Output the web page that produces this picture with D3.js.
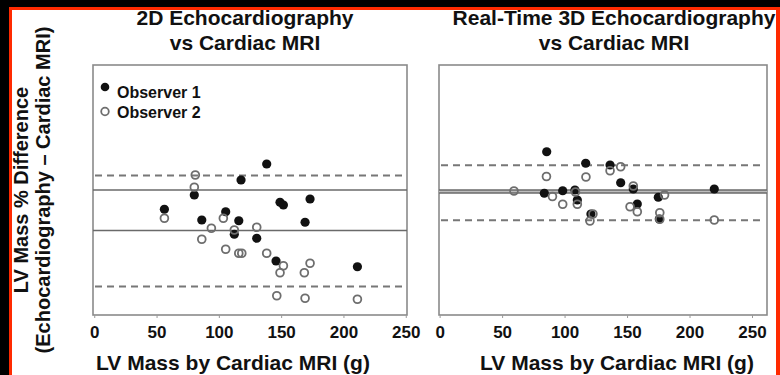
<!DOCTYPE html>
<html>
<head>
<meta charset="utf-8">
<script src="https://cdn.jsdelivr.net/npm/d3@7"></script>
<style>
  body { margin: 0; background: #000; }
  text { font-family: "Liberation Sans", Arial, Helvetica, sans-serif; font-weight: bold; fill: #111; }
</style>
</head>
<body>
<svg id="chart"></svg>
<script>
// ---- data (LV mass by MRI in g, % difference) ----
var xTicks = [0, 50, 100, 150, 200, 250];

// 2D echo panel
var twoD_obs1_mass = [56.3, 80.3, 86.3, 105.5, 116.0, 117.8, 112.4, 130.4, 138.4, 149.1, 151.8, 173.2, 169.2, 145.9, 211.2];
var twoD_obs1_diff = [-7.7, -2.0, -12.0, -8.7, -12.3, 4.0, -17.7, -19.3, 10.4, -4.9, -6.0, -3.6, -12.9, -28.4, -30.7];
var twoD_obs2_mass = [81.1, 80.3, 56.3, 94.0, 103.6, 112.4, 86.3, 105.5, 116.0, 118.4, 130.4, 138.4, 151.8, 149.1, 173.2, 168.6, 146.5, 169.2, 211.2];
var twoD_obs2_diff = [6.0, 1.1, -11.3, -15.3, -11.3, -16.0, -19.7, -23.7, -25.3, -25.3, -14.9, -25.3, -30.3, -33.1, -29.3, -33.1, -42.3, -43.3, -43.7];
var twoD_bias = -16.2;
var twoD_limits = [5.8, -38.6];

// real-time 3D echo panel
var rt3D_obs1_mass = [85.7, 116.9, 98.5, 83.8, 108.3, 110.2, 136.4, 144.9, 158.2, 175.0, 219.8, 155.0, 175.8, 121.1];
var rt3D_obs1_diff = [15.3, 10.7, -0.3, -1.3, 0.0, -4.0, 10.0, 2.9, -5.6, -2.9, 0.4, 0.4, -11.6, -9.6];
var rt3D_obs2_mass = [59.5, 85.5, 90.3, 98.5, 117.1, 110.2, 108.7, 122.7, 120.3, 136.4, 144.9, 155.0, 152.4, 158.2, 180.0, 176.2, 176.2, 219.8];
var rt3D_obs2_diff = [-0.4, 5.4, -2.6, -5.7, 5.2, -5.7, -0.8, -9.6, -12.4, 7.7, 9.3, 1.6, -6.7, -8.7, -2.0, -9.1, -11.7, -12.0];
var rt3D_bias = -1.2;
var rt3D_limits = [9.9, -12.1];

var legendLabels = ["Observer 1", "Observer 2"];

// ---- setup ----
var width = 780, height = 375;
var svg = d3.select("#chart").attr("width", width).attr("height", height);

// black page with red frame
svg.append("rect").attr("width", width).attr("height", height).attr("fill", "#000");
svg.append("rect").attr("x", 9).attr("y", 7).attr("width", 771).attr("height", 380).attr("fill", "#ff2a00");
svg.append("rect").attr("x", 12).attr("y", 10).attr("width", 764).attr("height", 380).attr("fill", "#fff");

var yScale = d3.scaleLinear().domain([-50, 50]).range([315, 65]);

function zip(a, b) { return a.map(function(v, i){ return {x: v, y: b[i]}; }); }

function panel(opt) {
    var x = d3.scaleLinear().domain(opt.domain).range(opt.range);
    var g = svg.append("g");

    // box
    g.append("rect")
        .attr("x", opt.range[0]).attr("y", yScale.range()[1])
        .attr("width", opt.range[1] - opt.range[0])
        .attr("height", yScale.range()[0] - yScale.range()[1])
        .attr("fill", "none").attr("stroke", "#8a8a8a").attr("stroke-width", 1.6);

    // reference lines
    var lineG = g.append("g");
    if (opt.band) {
        lineG.append("rect")
            .attr("x", opt.range[0]).attr("width", opt.range[1] - opt.range[0])
            .attr("y", yScale(0)).attr("height", yScale(opt.bias) - yScale(0))
            .attr("fill", "#bdbdbd");
    }
    [0, opt.bias].forEach(function(v){
        lineG.append("line")
            .attr("x1", opt.range[0]).attr("x2", opt.range[1])
            .attr("y1", yScale(v)).attr("y2", yScale(v))
            .attr("stroke", "#6a6a6a").attr("stroke-width", 1.6);
    });
    opt.limits.forEach(function(v){
        lineG.append("line")
            .attr("x1", opt.range[0] + 2).attr("x2", opt.range[1] - 2)
            .attr("y1", yScale(v)).attr("y2", yScale(v))
            .attr("stroke", "#777").attr("stroke-width", 2)
            .attr("stroke-dasharray", "7,5");
    });

    // points
    g.append("g").selectAll("circle")
        .data(zip(opt.m1, opt.d1)).enter().append("circle")
        .attr("cx", function(d){ return x(d.x); })
        .attr("cy", function(d){ return yScale(d.y); })
        .attr("r", 4.6).attr("fill", "#111");
    g.append("g").selectAll("circle")
        .data(zip(opt.m2, opt.d2)).enter().append("circle")
        .attr("cx", function(d){ return x(d.x); })
        .attr("cy", function(d){ return yScale(d.y); })
        .attr("r", 3.9).attr("fill", "none")
        .attr("stroke", "#6e6e6e").attr("stroke-width", 1.8);

    // x axis
    var ax = g.append("g").attr("transform", "translate(0,315)")
        .call(d3.axisBottom(x).tickValues(xTicks).tickSize(3).tickPadding(8));
    ax.select(".domain").remove();
    ax.selectAll(".tick line").attr("stroke", "#999");
    ax.selectAll("text").style("font-size", "17px").attr("fill", "#111");

    // titles
    g.append("text").attr("x", opt.titleX).attr("y", 25).attr("text-anchor", "middle")
        .style("font-size", "21px").text(opt.title);
    g.append("text").attr("x", opt.titleX).attr("y", 50).attr("text-anchor", "middle")
        .style("font-size", "21px").text("vs Cardiac MRI");
    g.append("text").attr("x", opt.xTitleX).attr("y", 370).attr("text-anchor", "middle")
        .style("font-size", "21px").text("LV Mass by Cardiac MRI (g)");
}

panel({
    domain: [-1, 251], range: [93, 407],
    m1: twoD_obs1_mass, d1: twoD_obs1_diff,
    m2: twoD_obs2_mass, d2: twoD_obs2_diff,
    bias: twoD_bias, limits: twoD_limits, band: false,
    title: "2D Echocardiography", titleX: 245, xTitleX: 233
});

panel({
    domain: [-0.5, 262], range: [439, 767],
    m1: rt3D_obs1_mass, d1: rt3D_obs1_diff,
    m2: rt3D_obs2_mass, d2: rt3D_obs2_diff,
    bias: rt3D_bias, limits: rt3D_limits, band: true,
    title: "Real-Time 3D Echocardiography", titleX: 614, xTitleX: 617
});

// legend (left panel)
var legend = svg.append("g");
legendLabels.forEach(function(lbl, i){
    var cy = 87 + i * 24.5;
    var c = legend.append("circle").attr("cx", 105).attr("cy", cy).attr("r", i === 0 ? 4.3 : 3.8);
    if (i === 0) c.attr("fill", "#111");
    else c.attr("fill", "none").attr("stroke", "#6e6e6e").attr("stroke-width", 1.8);
    legend.append("text").attr("x", 117).attr("y", 98 + i * 20)
        .style("font-size", "16px").text(lbl);
});

// y axis title (two lines)
svg.append("text").attr("transform", "translate(28,190) rotate(-90)")
    .attr("text-anchor", "middle").style("font-size", "20px").text("LV Mass % Difference");
svg.append("text").attr("transform", "translate(50,190) rotate(-90)")
    .attr("text-anchor", "middle").style("font-size", "20px").text("(Echocardiography \u2013 Cardiac MRI)");
</script>
</body>
</html>
